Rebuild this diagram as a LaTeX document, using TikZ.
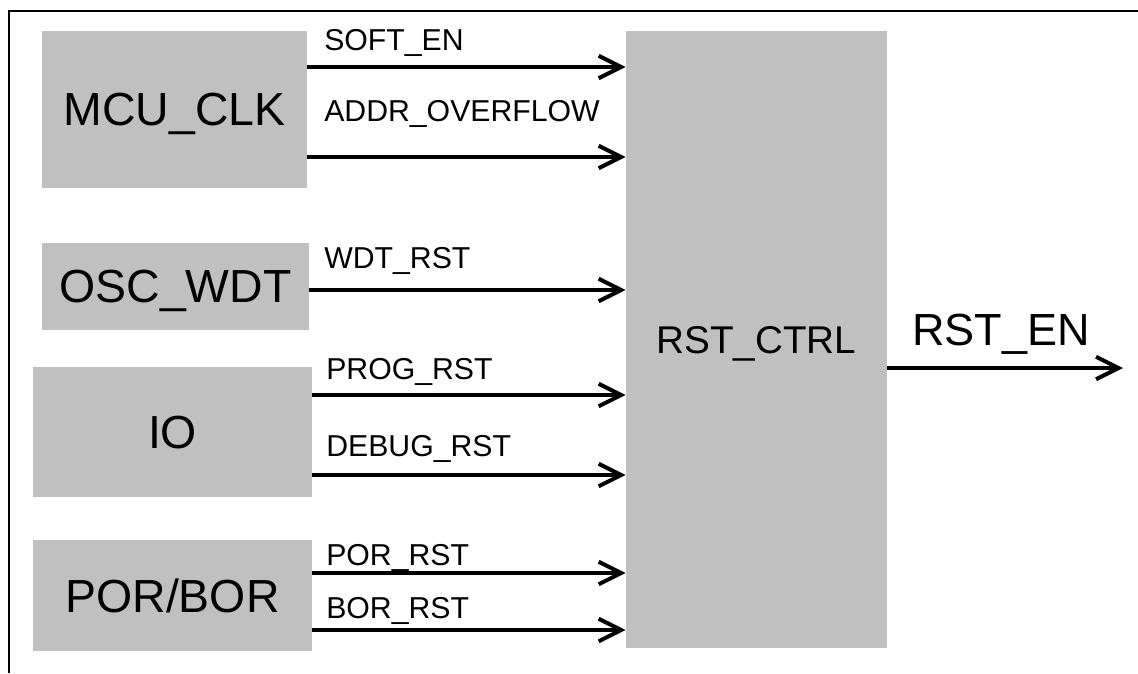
\documentclass[tikz,border=0pt]{standalone}
\usepackage{fontspec}
\setmainfont{Liberation Sans}
\usetikzlibrary{arrows.meta}
\definecolor{blockgray}{RGB}{192,192,192}
\begin{document}
\begin{tikzpicture}[x=0.025cm,y=-0.025cm,
        block/.style={draw=none,fill=blockgray,inner sep=0pt,text depth=0pt,font=\fontsize{33}{33}\selectfont},
        sig/.style={line width=2.85pt,-{Straight Barb[length=16pt,width=16pt]}},
        siglabel/.style={anchor=base west,inner sep=0pt,font=\fontsize{21.5}{21.5}\selectfont}]
        \useasboundingbox (0,0) rectangle (1138,673);
        %frame
        \draw[line width=1.4pt] (9,673) -- (9,11) -- (1138,11);
        \node[block,minimum width=6.625cm,minimum height=3.925cm] (mcu) at (174.5,109.5) {MCU\_CLK};
        \node[block,minimum width=6.675cm,minimum height=2.175cm] (osc) at (175.5,286.5) {OSC\_WDT};
        \node[block,minimum width=6.975cm,minimum height=3.25cm] (io) at (172.5,432) {IO};
        \node[block,minimum width=6.975cm,minimum height=2.775cm] (por) at (172.5,595.5) {POR/BOR};
        \node[block,minimum width=6.525cm,minimum height=15.425cm,font=\fontsize{27.5}{27.5}\selectfont] (ctrl) at (756.5,339.5) {RST\_CTRL};
        %inputs
        \foreach \src/\y in {mcu/67,mcu/157,osc/290,io/395,io/475,por/573,por/630}
            \draw[sig] (\src.east |- 0,\y) -- (ctrl.west |- 0,\y);
        \node[siglabel] (soften) at (324,50) {SOFT\_EN};
        \node[siglabel] (addrof) at (324,121) {ADDR\_OVERFLOW};
        \node[siglabel] (wdtrst) at (324,268) {WDT\_RST};
        \node[siglabel] (progrst) at (326,379) {PROG\_RST};
        \node[siglabel] (debugrst) at (326,456) {DEBUG\_RST};
        \node[siglabel] (porrst) at (326,565) {POR\_RST};
        \node[siglabel] (borrst) at (326,618) {BOR\_RST};
        %output
        \coordinate (rstout) at (1123,368);
        \draw[sig] (ctrl.east |- rstout) -- (rstout);
        \node[anchor=base,inner sep=0pt,font=\fontsize{32}{32}\selectfont] (rsten) at (1001,345) {RST\_EN};
    \end{tikzpicture}
\end{document}
